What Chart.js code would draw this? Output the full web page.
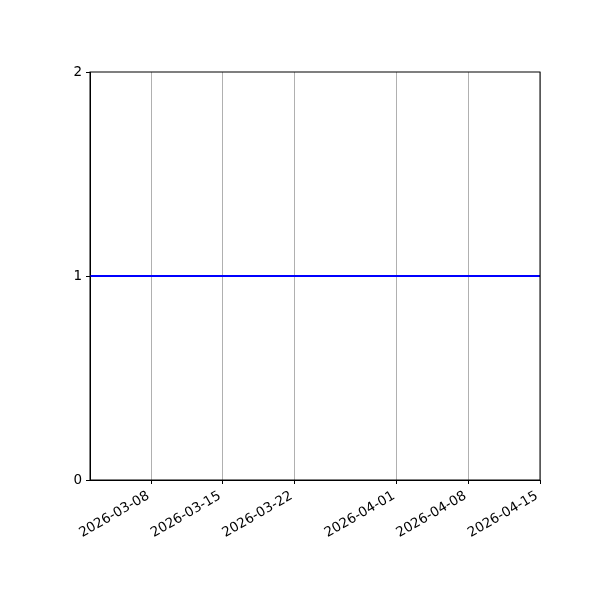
<!DOCTYPE html>
<html>
<head>
<meta charset="utf-8">
<script src="https://cdn.jsdelivr.net/npm/chart.js@4/dist/chart.umd.min.js"></script>
<style>
  html, body { margin: 0; padding: 0; background: #ffffff; }
  #wrap { width: 600px; height: 600px; }
</style>
</head>
<body>
<div id="wrap"><canvas id="myChart" width="600" height="600"></canvas></div>
<script>
// DATOS
const fechas = ['2026-03-02', '2026-04-15'];
const valores = [1, 1];
const xTicks = ['2026-03-08', '2026-03-15', '2026-03-22', '2026-04-01', '2026-04-08', '2026-04-15'];
const yTicks = [0, 1, 2];

const aMs = s => Date.parse(s + 'T00:00:00Z');
const fmt = ms => new Date(ms).toISOString().slice(0, 10);

const puntos = fechas.map((f, i) => ({ x: aMs(f), y: valores[i] }));

// marco de la grafica (spines arriba y derecha)
const marco = {
  id: 'marco',
  afterDraw(chart) {
    const { ctx, chartArea: a } = chart;
    ctx.save();
    ctx.strokeStyle = '#000000';
    ctx.lineWidth = 1;
    ctx.strokeRect(a.left, a.top, a.right - a.left, a.bottom - a.top);
    ctx.restore();
  }
};

const ctx = document.getElementById('myChart');

const myChart = new Chart(ctx, {
  type: 'line',
  data: {
    datasets: [{
      data: puntos,
      borderColor: '#0000ff',
      borderWidth: 2,
      pointRadius: 0,
      fill: false,
      tension: 0
    }]
  },
  options: {
    responsive: false,
    animation: false,
    layout: { padding: { top: 72, right: 60, left: 0, bottom: 0 } },
    plugins: {
      legend: { display: false },
      tooltip: { enabled: false }
    },
    scales: {
      x: {
        type: 'linear',
        min: aMs(fechas[0]),
        max: aMs(fechas[fechas.length - 1]),
        afterBuildTicks: axis => { axis.ticks = xTicks.map(t => ({ value: aMs(t) })); },
        afterFit: axis => { axis.height = 120; },
        ticks: {
          callback: v => fmt(v),
          minRotation: 30,
          maxRotation: 30,
          autoSkip: false,
          color: '#000000',
          padding: 4,
          labelOffset: -3,
          font: { family: 'DejaVu Sans', size: 13.5 }
        },
        grid: {
          color: '#b0b0b0',
          lineWidth: 1,
          drawOnChartArea: true,
          tickColor: '#000000',
          tickLength: 4
        },
        border: { color: '#000000', width: 1 }
      },
      y: {
        min: 0,
        max: 2,
        afterBuildTicks: axis => { axis.ticks = yTicks.map(v => ({ value: v })); },
        afterFit: axis => { axis.width = 90; },
        ticks: {
          color: '#000000',
          padding: 4,
          font: { family: 'DejaVu Sans', size: 13.5 }
        },
        grid: {
          drawOnChartArea: false,
          tickColor: '#000000',
          tickLength: 4
        },
        border: { color: '#000000', width: 1 }
      }
    }
  },
  plugins: [marco]
});
</script>
</body>
</html>
